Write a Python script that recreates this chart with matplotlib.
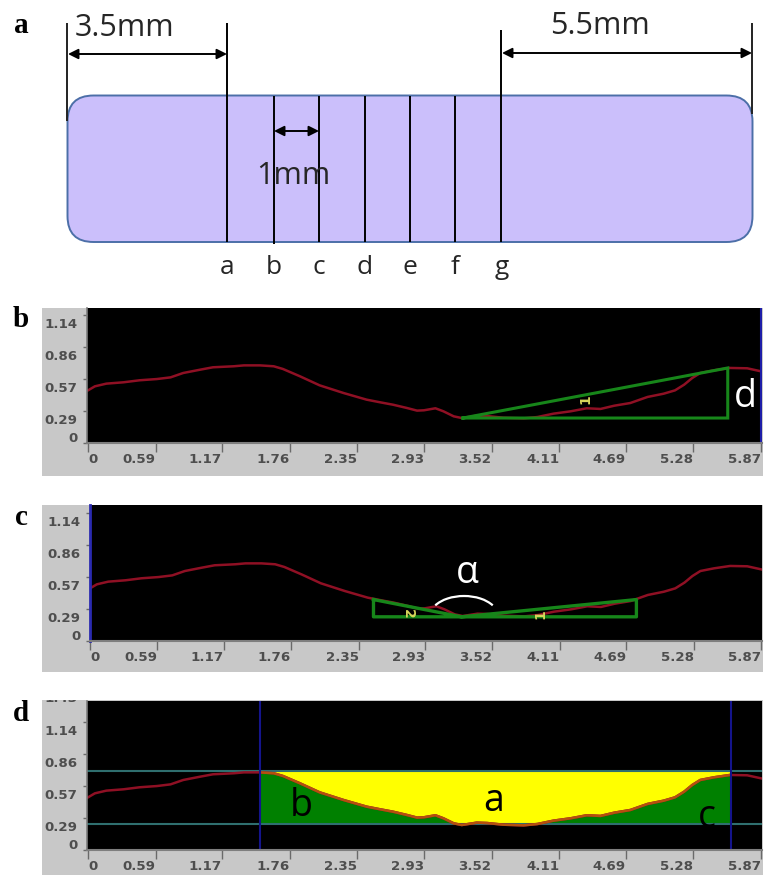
import numpy as np
import matplotlib
matplotlib.use("Agg")
import matplotlib.pyplot as plt
from matplotlib.patches import Rectangle, FancyBboxPatch, Arc
from matplotlib.transforms import ScaledTranslation

W, H = 765, 875

# profile (mm, mm)
profile_x = [0.00, 0.06, 0.16, 0.31, 0.45, 0.60, 0.72, 0.83, 0.98, 1.09, 1.27, 1.36, 1.50, 1.62, 1.70,
             1.85, 2.02, 2.23, 2.43, 2.55, 2.66, 2.78, 2.87, 2.93, 3.03, 3.10, 3.19, 3.26, 3.39, 3.48,
             3.62, 3.80, 3.92, 4.06, 4.21, 4.35, 4.47, 4.59, 4.73, 4.88, 5.02, 5.12, 5.20, 5.27, 5.34,
             5.46, 5.60, 5.75, 5.87]
profile_y = [0.470, 0.506, 0.530, 0.542, 0.560, 0.571, 0.586, 0.625, 0.655, 0.676, 0.685, 0.693, 0.693, 0.685, 0.661,
             0.595, 0.515, 0.446, 0.387, 0.363, 0.342, 0.313, 0.289, 0.292, 0.310, 0.283, 0.238, 0.223, 0.244, 0.241,
             0.226, 0.220, 0.232, 0.262, 0.283, 0.310, 0.304, 0.333, 0.357, 0.411, 0.440, 0.470, 0.521, 0.580, 0.625,
             0.649, 0.670, 0.667, 0.640]

x_ticks = [0, 0.59, 1.17, 1.76, 2.35, 2.93, 3.52, 4.11, 4.69, 5.28, 5.87]
x_labels = ["0", "0.59", "1.17", "1.76", "2.35", "2.93", "3.52", "4.11", "4.69", "5.28", "5.87"]
y_ticks = [0, 0.29, 0.57, 0.86, 1.14]
y_labels = ["0", "0.29", "0.57", "0.86", "1.14"]

slice_x = [227, 274, 319, 365, 410, 455, 501.5]
slice_names = ["a", "b", "c", "d", "e", "f", "g"]

tri_b_x = [3.27, 5.58, 5.58, 3.27]
tri_b_y = [0.223, 0.67, 0.223, 0.223]
tri_c_x = [2.48, 2.48, 4.78, 4.78, 3.25, 2.48]
tri_c_y = [0.37, 0.216, 0.216, 0.37, 0.216, 0.37]
d_left, d_right = 1.50, 5.61
d_top, d_bottom = 0.705, 0.232

GRAY = "#C8C8C8"
TICK_TXT = "#4E4E4E"
TICK = "#6A6A6A"
RED = "#8F1024"
GREEN = "#17861A"
TXT_FONT = ["Open Sans", "DejaVu Sans"]
TICK_FS = 9.6

fig = plt.figure(figsize=(W / 100, H / 100), dpi=100, facecolor="white")


def px_axes(l, t, r, b, z):
    return fig.add_axes([l / W, 1 - b / H, (r - l) / W, (b - t) / H], zorder=z)


# background layer in pixel coordinates: grey frames and schematic panel a
bg = px_axes(0, 0, W, H, 0)
bg.set_xlim(0, W)
bg.set_ylim(H, 0)
bg.axis("off")

bg.add_patch(FancyBboxPatch((67.5 + 26, 95.5 + 26), 685 - 52, 146.5 - 52,
                            boxstyle="round,pad=26,rounding_size=26",
                            fc="#CBBFFB", ec="#4C6FA8", lw=1.4))
for xp in slice_x:
    top = 23 if xp == 227 else (30 if xp == 501.5 else 95.5)
    bot = 244 if xp == 274 else 242
    bg.plot([xp, xp], [top, bot], color="black", lw=1.4, solid_capstyle="butt")
bg.plot([67.5, 67.5], [23, 121], color="#222222", lw=1.4, solid_capstyle="butt")
bg.plot([752.5, 752.5], [23, 114], color="#222222", lw=1.4, solid_capstyle="butt")
for x0, x1, yp in [(68, 227, 54), (502, 752, 53), (274, 319, 131)]:
    bg.annotate("", xy=(x1, yp), xytext=(x0, yp),
                arrowprops=dict(arrowstyle="<|-|>", color="black", lw=1.4,
                                shrinkA=0, shrinkB=0, mutation_scale=15))
for s, xc, yb in [("3.5mm", 125, 36), ("5.5mm", 600, 34), ("1mm", 293, 184)]:
    bg.text(xc, yb, s, ha="center", va="baseline", fontsize=22, color="#262626", family=TXT_FONT)
for xp, s in zip(slice_x, slice_names):
    bg.text(xp, 274, s, ha="center", va="baseline", fontsize=19, color="#262626", family=TXT_FONT)

for s, xl, yb in [("a", 14, 33), ("b", 13, 327), ("c", 15, 525), ("d", 13, 721)]:
    bg.text(xl, yb, s, ha="left", va="baseline", fontsize=21, weight="bold",
            family="Liberation Serif", color="black")

for t, b in [(308, 476), (505, 672), (700, 875)]:
    bg.add_patch(Rectangle((42, t), 721, b - t, fc=GRAY, ec="none"))

# partly cut tick label at the top of panel d
cut = bg.text(78, 698, "1.43", ha="right", va="center", fontsize=TICK_FS, weight="bold", color=TICK_TXT)
cut.set_clip_path(Rectangle((42, 700), 721, 175, transform=bg.transData))
cut.set_clip_on(True)


def profile_axes(l, t, r, b, x_zero, y_zero):
    """Black scan window; x_zero/y_zero are the pixel positions of data zero."""
    ax = px_axes(l, t, r, b, 1)
    sx = (761 - x_zero) / 5.87
    sy = 112.0
    ax.set_xlim((l - x_zero) / sx, (r - x_zero) / sx)
    ax.set_ylim((y_zero - b) / sy, (y_zero - t) / sy)
    ax.set_facecolor("black")
    for side in ax.spines:
        ax.spines[side].set_visible(False)
    ax.spines["bottom"].set_visible(True)
    ax.spines["bottom"].set_color("#7E7E7E")
    ax.spines["bottom"].set_linewidth(1.5)
    ax.spines["left"].set_visible(True)
    ax.spines["left"].set_color("#7E7E7E")
    ax.spines["left"].set_linewidth(1.2)
    ax.set_xticks(x_ticks, x_labels, fontweight="bold")
    ax.set_yticks(y_ticks, y_labels, fontweight="bold")
    ax.tick_params(axis="x", length=6.5, width=1, color=TICK, labelcolor=TICK_TXT,
                   labelsize=TICK_FS, pad=0.5)
    ax.tick_params(axis="y", length=3, width=1, color=TICK, labelcolor=TICK_TXT,
                   labelsize=TICK_FS, pad=4)
    for val, lab in zip(x_ticks, ax.get_xticklabels()):
        lab.set_ha("left" if val == 0 else "right")
    for val, lab in zip(y_ticks, ax.get_yticklabels()):
        dy = 6 / 100 if val == 0 else -8 / 100
        lab.set_transform(lab.get_transform() + ScaledTranslation(0, dy, fig.dpi_scale_trans))
    return ax


# panel b
ax_b = profile_axes(87, 308, 762, 443, 88, 443)
ax_b.plot(profile_x, profile_y, color=RED, lw=1.8)
ax_b.plot(tri_b_x, tri_b_y, color=GREEN, lw=2.2, solid_joinstyle="miter")
ax_b.axvline(ax_b.get_xlim()[1] - 0.005, color="#1E1EA8", lw=1.5)

# panel c
ax_c = profile_axes(90, 505, 762, 641, 90, 641)
ax_c.plot(profile_x, profile_y, color=RED, lw=1.8)
ax_c.plot(tri_c_x, tri_c_y, color=GREEN, lw=2.4, solid_joinstyle="round")
ax_c.spines["left"].set_color("#2A2AB0")
ax_c.spines["left"].set_linewidth(2)

# panel d
ax_d = profile_axes(87, 701, 762, 850, 88, 850)
clip_box = Rectangle((d_left, 0), d_right - d_left, 1.3, transform=ax_d.transData)
arr_x, arr_y = np.array(profile_x), np.array(profile_y)
yellow = ax_d.fill_between(arr_x, arr_y, d_top, where=arr_y <= d_top, color="#FFFF00", lw=0, interpolate=True)
green = ax_d.fill_between(arr_x, arr_y, d_bottom, where=arr_y >= d_bottom, color="#008000", lw=0, interpolate=True)
yellow.set_clip_path(clip_box)
green.set_clip_path(clip_box)
ax_d.axhline(d_top, color="#2F6F6F", lw=1.5)
ax_d.axhline(d_bottom, color="#2F6F6F", lw=1.5)
ax_d.plot(profile_x, profile_y, color=RED, lw=1.8)
edge, = ax_d.plot(profile_x, profile_y, color="#B5500F", lw=1.8)
edge.set_clip_path(Rectangle((d_left, 0), d_right - d_left, 1.3, transform=ax_d.transData))
for xv in (d_left, d_right):
    ax_d.axvline(xv, color="#14148C", lw=1.5)

# overlay layer: hand-placed annotations
top_ax = px_axes(0, 0, W, H, 2)
top_ax.set_xlim(0, W)
top_ax.set_ylim(H, 0)
top_ax.axis("off")
top_ax.patch.set_alpha(0)
top_ax.add_patch(Arc((464, 617), 69, 42, theta1=202, theta2=338, color="white", lw=1.6))
for s, xc, yb, col in [("d", 745, 407, "white"), ("α", 467, 583, "white"), ("a", 494, 811, "black"),
                       ("b", 301, 816, "black"), ("c", 707, 827, "black")]:
    top_ax.text(xc, yb, s, color=col, fontsize=27, ha="center", va="baseline", family=TXT_FONT)
for s, xc, yc, rot in [("1", 585, 399, 90), ("1", 540, 614, 90), ("2", 408, 614, -90)]:
    top_ax.text(xc, yc, s, color="#D6D65A", fontsize=10, weight="bold", rotation=rot, ha="center", va="center")

fig.savefig("out.png", dpi=100)
